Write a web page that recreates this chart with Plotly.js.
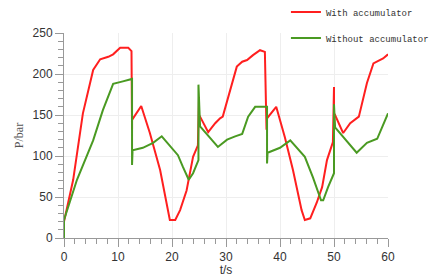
<!DOCTYPE html>
<html>
<head>
<meta charset="utf-8">
<script src="https://cdn.plot.ly/plotly-3.0.1.min.js"></script>
<style>html,body{margin:0;padding:0;background:#fff}#chart{width:437px;height:277px}</style>
</head>
<body>
<div id="chart"></div>
<script>
// With accumulator
const tWith = [0, 1.7, 3.5, 5.4, 6.7, 8.2, 9.1, 10.4, 11.9, 12.5, 12.6, 12.6, 14.3, 15.9, 17.8, 19.6, 20.6, 21.5, 22.7, 23.9, 24.8, 25.0, 25.0, 25.2, 26.7, 28.0, 28.9, 29.4, 30.7, 32.0, 33.0, 33.9, 35.0, 36.3, 37.2, 37.5, 37.5, 37.6, 39.3, 40.9, 42.4, 44.0, 44.6, 45.6, 46.8, 47.8, 48.7, 49.8, 50.0, 50.0, 50.2, 51.7, 53.0, 54.2, 54.6, 56.1, 57.3, 58.2, 59.1, 60.0];
const pWith = [20, 71, 152, 205, 218, 221, 224, 232, 232, 228, 132, 144, 161, 128, 83, 22, 22, 34, 58, 99, 113, 172, 150, 148, 129, 140, 146, 148, 180, 209, 215, 217, 223, 229, 227, 132, 144, 146, 160, 123, 83, 34, 22, 24, 43, 62, 95, 117, 184, 152, 150, 128, 140, 146, 148, 189, 213, 216, 219, 224];
// Without accumulator
const tWithout = [0, 0, 2.4, 5.4, 7.2, 9.1, 10.9, 12.6, 12.6, 12.7, 14.6, 16.5, 18.1, 19.6, 21.1, 22.0, 23.1, 23.9, 24.9, 24.9, 25.2, 28.5, 30.2, 31.7, 33.0, 34.1, 35.4, 37.6, 37.6, 37.7, 40.0, 41.9, 44.6, 46.1, 47.6, 48.0, 48.9, 50.0, 50.0, 50.2, 54.2, 56.1, 58.0, 60.0];
const pWithout = [0, 22, 71, 119, 156, 188, 191, 194, 89, 107, 110, 116, 124, 113, 101, 87, 71, 79, 95, 187, 136, 111, 120, 124, 127, 148, 160, 160, 91, 104, 110, 119, 99, 74, 46, 46, 62, 79, 163, 135, 104, 116, 121, 152];
const names = ["With accumulator", "Without accumulator"];
const xTicks = [0, 10, 20, 30, 40, 50, 60];
const yTicks = [0, 50, 100, 150, 200, 250];

const data = [
  {x: tWith, y: pWith, name: names[0], mode: "lines", line: {color: "#ff1f1f", width: 2}, legendgroup: "a"},
  {x: tWithout, y: pWithout, name: names[1], mode: "lines", line: {color: "#4a9a22", width: 2}, legendgroup: "b"}
];
const axisCommon = {
  showline: true, linecolor: "#999", linewidth: 1,
  ticks: "outside", ticklen: 8, tickcolor: "#999",
  gridcolor: "#eeeeee", zeroline: false,
  tickfont: {family: "Liberation Sans, Arial, sans-serif", size: 12, color: "#333"}
};
const layout = {
  width: 437, height: 277,
  margin: {l: 64, r: 49, t: 33, b: 39, autoexpand: false},
  paper_bgcolor: "#fff", plot_bgcolor: "#fff",
  showlegend: true,
  legend: {x: 0.685, y: 1.173, xanchor: "left", yanchor: "top",
           bgcolor: "rgba(0,0,0,0)",
           font: {family: "Liberation Mono, monospace", size: 9, color: "#333"}, tracegroupgap: 7},
  xaxis: Object.assign({}, axisCommon, {range: [0, 60], tickvals: xTicks,
    minor: {dtick: 2, ticks: "outside", ticklen: 5, tickcolor: "#999", showgrid: false},
    title: {text: "t/s", font: {family: "Liberation Sans, Arial, sans-serif", size: 12, color: "#333"}, standoff: 4}}),
  yaxis: Object.assign({}, axisCommon, {range: [0, 250], tickvals: yTicks,
    minor: {dtick: 10, ticks: "outside", ticklen: 5, tickcolor: "#999", showgrid: false},
    title: {text: "P/bar", font: {family: "Liberation Serif, serif", size: 12, color: "#555"}, standoff: 6}})
};
Plotly.newPlot("chart", data, layout, {displayModeBar: false, staticPlot: true});
</script>
</body>
</html>
